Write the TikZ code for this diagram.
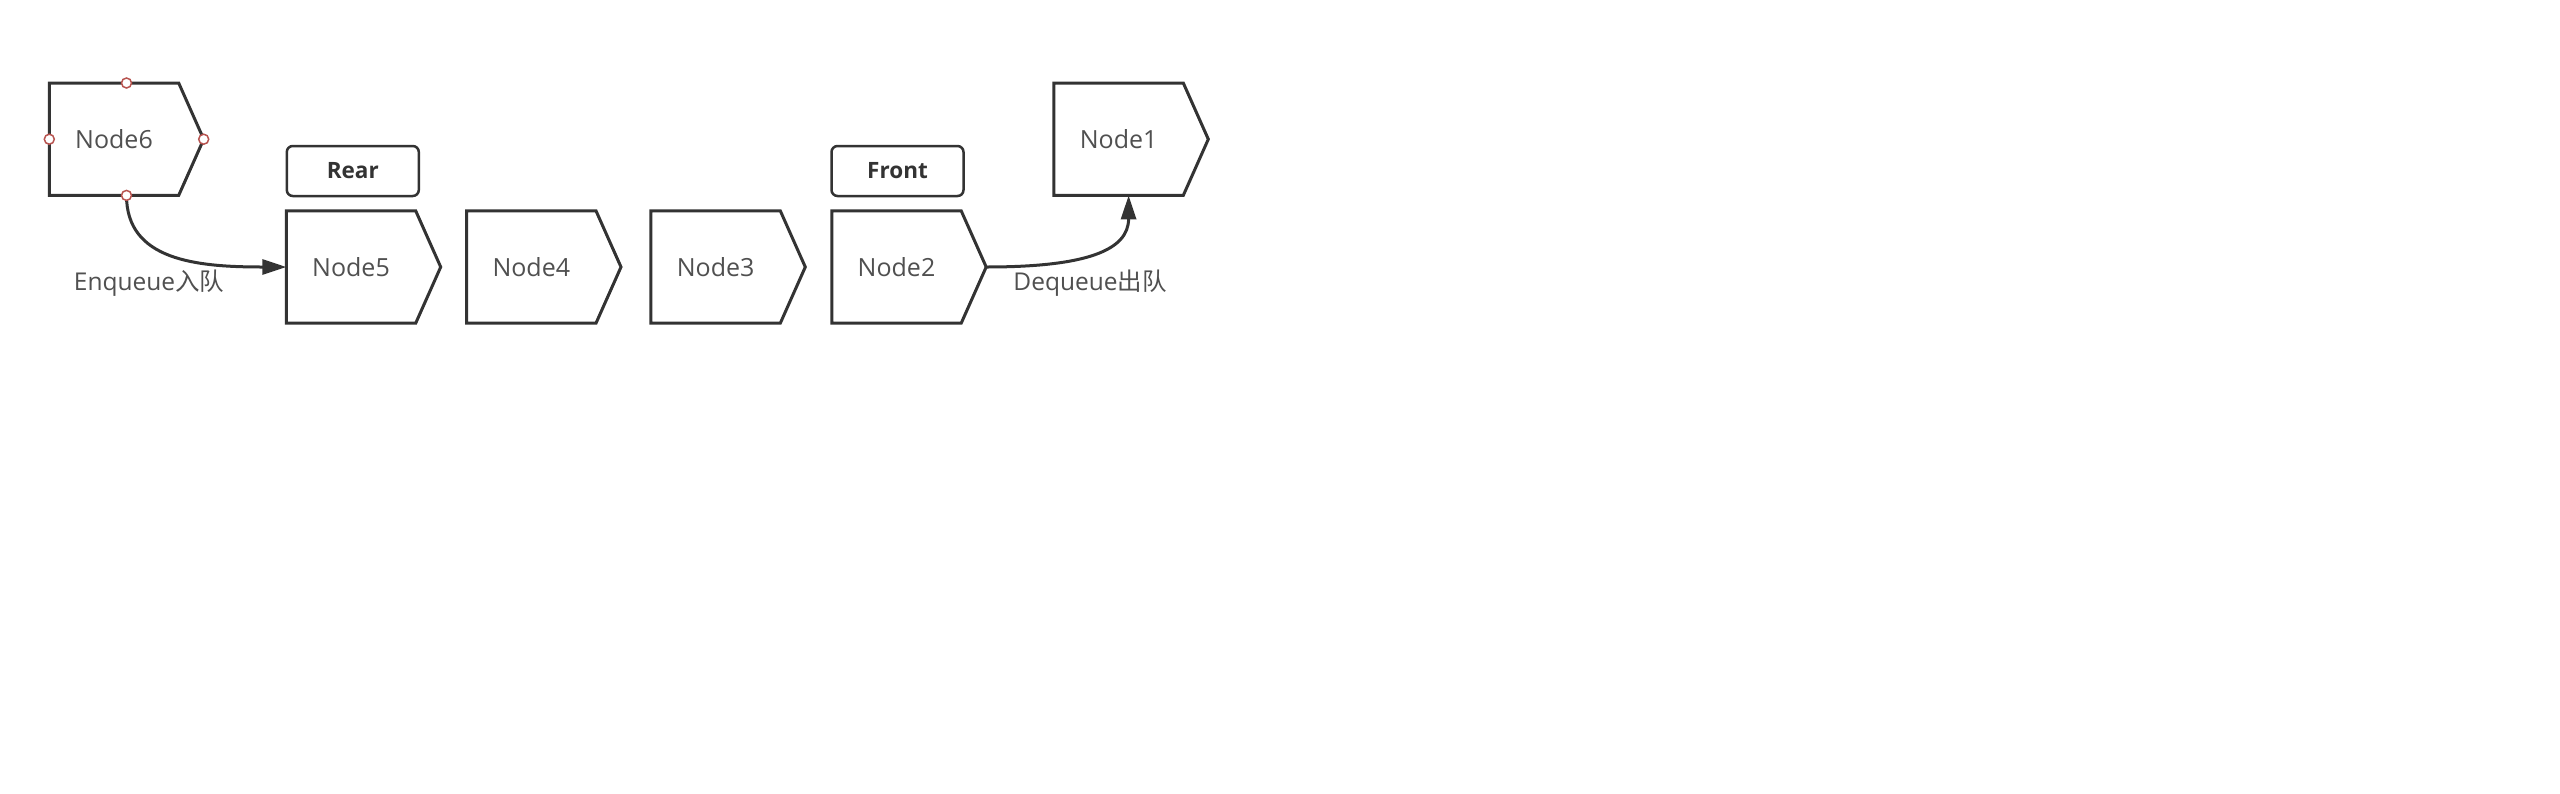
\documentclass[tikz,border=0pt]{standalone}
\usepackage{fontspec}
\setmainfont{Open Sans}
\newfontfamily\cjk{Noto Sans CJK SC}
\usetikzlibrary{arrows.meta}
\definecolor{edgec}{RGB}{51,51,51}
\definecolor{txtc}{RGB}{80,80,80}
\definecolor{handlec}{RGB}{184,84,80}
\newcommand\qpoly[1]{\draw[qline] (#1.north west) -- (#1.north east) -- ([xshift=25pt]#1.east) -- (#1.south east) -- (#1.south west) -- cycle;}
\begin{document}
\begin{tikzpicture}[x=1pt,y=-1pt,
  qnode/.style={minimum width=129pt, minimum height=112pt, inner sep=0pt, text=txtc,
    font=\fontsize{25}{29}\selectfont},
  qline/.style={draw=edgec, line width=3pt},
  tagbox/.style={draw=edgec, line width=2.5pt, rounded corners=6pt, minimum width=132pt,
    minimum height=50pt, inner sep=0pt, text=edgec, font=\bfseries\fontsize{22.5}{26}\selectfont},
  lab/.style={text=txtc, inner sep=0pt, font=\fontsize{24.5}{28}\selectfont},
  conn/.style={draw=edgec, line width=3pt, -{Triangle[length=24pt,width=15pt]}},
  handle/.style={draw=handlec, fill=white, line width=1.5pt}]
\fill[white] (0,0) rectangle (2560,793);
\useasboundingbox (0,0) rectangle (2560,793);

\node[qnode] (n6) at (114,139.2) {Node6};
\node[qnode] (n5) at (351,267) {Node5};
\node[qnode] (n4) at (531.3,267) {Node4};
\node[qnode] (n3) at (715.6,267) {Node3};
\node[qnode] (n2) at (896.5,267) {Node2};
\node[qnode] (n1) at (1118.6,139.2) {Node1};
\qpoly{n6}\qpoly{n5}\qpoly{n4}\qpoly{n3}\qpoly{n2}\qpoly{n1}

\node[tagbox] (rear) at (352.8,171) {Rear};
\node[tagbox] (front) at (897.5,171) {Front};

\draw[conn] ([xshift=12.5pt]n6.south) .. controls +(0,65) and +(-90,0) .. (n5.west);
\draw[conn] ([xshift=25pt]n2.east) .. controls +(100,0) and +(0,55) .. ([xshift=10pt]n1.south);

\node[lab] (enq) at (149,283) {Enqueue{\cjk 入队}};
\node[lab] (deq) at (1090,283) {Dequeue{\cjk 出队}};

\draw[handle] ([xshift=12.5pt]n6.north) circle (5);
\draw[handle] ([xshift=12.5pt]n6.south) circle (5);
\draw[handle] (n6.west) circle (5);
\draw[handle] ([xshift=25pt]n6.east) circle (5);
\end{tikzpicture}
\end{document}
